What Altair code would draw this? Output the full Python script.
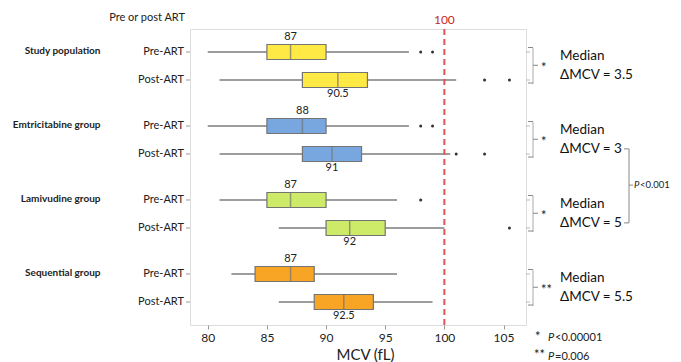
import altair as alt
import pandas as pd

# ---------------- data ----------------
groups = ["Study population", "Emtricitabine group", "Lamivudine group", "Sequential group"]
phases = ["Pre-ART", "Post-ART"]

box_group = [g for g in groups for _ in phases]
box_phase = phases * len(groups)
whisker_low = [80, 81, 80, 81, 81, 86, 82, 86]
quartile_1 = [85, 88, 85, 88, 85, 90, 84, 89]
median_mcv = [87, 91, 88, 90.5, 87, 92, 87, 91.5]
quartile_3 = [90, 93.5, 90, 93, 90, 95, 89, 94]
whisker_high = [97, 101, 97, 100.5, 96, 100, 96, 99]
median_labels = ["87", "90.5", "88", "91", "87", "92", "87", "92.5"]

outlier_group = ["Study population"] * 4 + ["Emtricitabine group"] * 4 + ["Lamivudine group"] * 2
outlier_phase = ["Pre-ART", "Pre-ART", "Post-ART", "Post-ART"] * 2 + ["Pre-ART", "Post-ART"]
outlier_mcv = [98, 99, 103.4, 105.5, 98, 99, 101, 103.4, 98, 105.5]

delta_median = ["3.5", "3", "5", "5.5"]
significance = ["*", "*", "*", "**"]
compare_groups = ["Emtricitabine group", "Lamivudine group"]
compare_p = "<0.001"
reference_mcv = [100]
x_ticks = [80, 85, 90, 95, 100, 105]
foot_marks = ["*", "**"]
foot_p = ["<0.00001", "=0.006"]

# ---------------- tables ----------------
boxes = pd.DataFrame({
    "group": box_group, "phase": box_phase,
    "lo": whisker_low, "q1": quartile_1, "med": median_mcv,
    "q3": quartile_3, "hi": whisker_high, "label": median_labels,
})
outliers = pd.DataFrame({"group": outlier_group, "phase": outlier_phase, "mcv": outlier_mcv})
annot = pd.DataFrame({"group": groups, "delta": delta_median, "sig": significance})
comp = pd.DataFrame({"group": compare_groups})
ref = pd.DataFrame({"mcv": reference_mcv})
one = pd.DataFrame({"k": [0]})

FONT = "Lato"
colors = ["#FFE944", "#78A6DE", "#CDEB68", "#F8A526"]
GRAY = "#747474"

xscale = alt.Scale(domain=[78.5, 106.9], nice=False, zero=False)
xaxis = alt.Axis(values=x_ticks, title="MCV (fL)", grid=False, domain=False,
                 tickSize=4, tickColor="#999", labelFontSize=12, labelColor="#222",
                 labelPadding=3, labelFont=FONT, titleFont=FONT, titleFontSize=15,
                 titleFontWeight="normal", titleColor="#222", titleBaseline="top",
                 titleY=22, titleX=175)
yscale = alt.Scale(domain=groups, paddingInner=0, paddingOuter=0)
yaxis = alt.Axis(title=None, ticks=False, domain=False, labelFontWeight="bold",
                 labelFontSize=10, labelPadding=90, labelOffset=-15, labelColor="#222",
                 labelFont=FONT, labelLimit=200)


def X(field):
    return alt.X(field, type="quantitative", scale=xscale, axis=xaxis)


def Y(bp=None):
    if bp is None:
        return alt.Y("group:N", scale=yscale, axis=yaxis)
    return alt.Y("group:N", scale=yscale, axis=yaxis, bandPosition=bp)


YO = alt.YOffset("phase:N", scale=alt.Scale(domain=phases, paddingInner=0, paddingOuter=0.32))

base = alt.Chart(boxes)

whiskers = base.mark_rule(color="#7c7c7c", strokeWidth=1.4).encode(x=X("lo"), x2="hi", y=Y(), yOffset=YO)
refline = alt.Chart(ref).mark_rule(color="#E05555", strokeWidth=2, strokeDash=[6, 4]).encode(x=X("mcv"))
ref_label = alt.Chart(ref).mark_text(color="#C62828", fontSize=12, font=FONT).encode(
    x=X("mcv"), y=alt.value(-9), text=alt.Text("mcv:Q"))
box = base.mark_bar(size=15, stroke=GRAY, strokeWidth=1.2).encode(
    x=X("q1"), x2="q3", y=Y(), yOffset=YO,
    color=alt.Color("group:N", scale=alt.Scale(domain=groups, range=colors), legend=None))
med = base.mark_tick(orient="vertical", size=15, thickness=1.5, color=GRAY).encode(
    x=X("med"), y=Y(), yOffset=YO)
outl = alt.Chart(outliers).mark_circle(size=9, color="#333", opacity=1).encode(
    x=X("mcv"), y=Y(), yOffset=YO)
lab_pre = base.transform_filter(alt.datum.phase == "Pre-ART").mark_text(
    dy=-15, fontSize=11, color="#222", font=FONT).encode(x=X("med"), y=Y(), yOffset=YO, text="label:N")
lab_post = base.transform_filter(alt.datum.phase == "Post-ART").mark_text(
    dy=14, fontSize=11, color="#222", font=FONT).encode(x=X("med"), y=Y(), yOffset=YO, text="label:N")

phase_lab = base.mark_text(align="right", baseline="middle", fontSize=11, color="#222", font=FONT).encode(
    x=alt.value(-6), y=Y(), yOffset=YO, text="phase:N")
tick_l = base.mark_rule(color="#999").encode(x=alt.value(-4), x2=alt.value(0), y=Y(), yOffset=YO)
tick_r = base.mark_rule(color="#bbb").encode(x=alt.value(336), x2=alt.value(340), y=Y(), yOffset=YO)

header = alt.Chart(one).mark_text(align="right", fontSize=11, color="#222", font=FONT).encode(
    x=alt.value(-5), y=alt.value(-11), text=alt.value("Pre or post ART"))

ab = alt.Chart(annot)
BR = "#888"
br_v = ab.mark_tick(orient="vertical", size=36, thickness=1, color=BR).encode(x=alt.value(343), y=Y(0.49))
br_t = ab.mark_rule(color=BR).encode(x=alt.value(338), x2=alt.value(343), y=Y(0.25))
br_b = ab.mark_rule(color=BR).encode(x=alt.value(338), x2=alt.value(343), y=Y(0.73))
br_m = ab.mark_rule(color=BR).encode(x=alt.value(343), x2=alt.value(348), y=Y(0.49))
star = ab.mark_text(align="left", fontSize=13, color="#222", font=FONT, dy=3).encode(
    x=alt.value(351), y=Y(0.49), text="sig:N")
t_med = ab.mark_text(align="left", fontSize=13.5, color="#111", font=FONT).encode(
    x=alt.value(370), y=Y(0.37), text=alt.value("Median"))
t_delta = ab.transform_calculate(t="'ΔMCV = ' + datum.delta").mark_text(
    align="left", fontSize=13.5, color="#111", font=FONT).encode(x=alt.value(370), y=Y(0.62), text="t:N")

cb = alt.Chart(comp)
CX = 439
c_v = cb.mark_line(color=BR, strokeWidth=1).encode(x=alt.value(CX), y=Y(0.62))
c_t = cb.transform_filter(alt.datum.group == compare_groups[0]).mark_rule(color=BR).encode(
    x=alt.value(CX - 5), x2=alt.value(CX), y=Y(0.62))
c_b = cb.transform_filter(alt.datum.group == compare_groups[1]).mark_rule(color=BR).encode(
    x=alt.value(CX - 5), x2=alt.value(CX), y=Y(0.62))
c_m = cb.transform_filter(alt.datum.group == compare_groups[1]).mark_rule(color=BR).encode(
    x=alt.value(CX), x2=alt.value(CX + 4), y=Y(0.11))
c_p = cb.transform_filter(alt.datum.group == compare_groups[1]).mark_text(
    align="left", fontSize=9.5, fontStyle="italic", color="#222", font=FONT).encode(
    x=alt.value(CX + 5), y=Y(0.11), text=alt.value("P"))
c_v2 = cb.transform_filter(alt.datum.group == compare_groups[1]).mark_text(
    align="left", fontSize=9.5, color="#222", font=FONT).encode(
    x=alt.value(CX + 11), y=Y(0.11), text=alt.value(compare_p))

fn = alt.Chart(one)
f1 = fn.mark_text(align="left", fontSize=13, color="#222", font=FONT).encode(
    x=alt.value(345), y=alt.value(308), text=alt.value(foot_marks[0]))
f1p = fn.mark_text(align="left", fontSize=11, fontStyle="italic", color="#222", font=FONT).encode(
    x=alt.value(358), y=alt.value(309), text=alt.value("P"))
f1v = fn.mark_text(align="left", fontSize=11, color="#222", font=FONT).encode(
    x=alt.value(365), y=alt.value(309), text=alt.value(foot_p[0]))
f2 = fn.mark_text(align="left", fontSize=13, color="#222", font=FONT).encode(
    x=alt.value(344), y=alt.value(326), text=alt.value(foot_marks[1]))
f2p = fn.mark_text(align="left", fontSize=11, fontStyle="italic", color="#222", font=FONT).encode(
    x=alt.value(358), y=alt.value(328), text=alt.value("P"))
f2v = fn.mark_text(align="left", fontSize=11, color="#222", font=FONT).encode(
    x=alt.value(365), y=alt.value(328), text=alt.value(foot_p[1]))

chart = alt.layer(
    whiskers, refline, box, med, outl, lab_pre, lab_post, ref_label,
    phase_lab, tick_l, tick_r, header,
    br_v, br_t, br_b, br_m, star, t_med, t_delta,
    c_v, c_t, c_b, c_m, c_p, c_v2,
    f1, f1p, f1v, f2, f2p, f2v,
).properties(
    width=336, height=296, autosize="none",
    padding={"left": 182, "top": 21, "right": 147, "bottom": 37},
).configure_view(stroke="#b5b5b5", strokeWidth=1).configure(font=FONT)

chart.save("out.html", embed_options={"renderer": "svg", "actions": False})
